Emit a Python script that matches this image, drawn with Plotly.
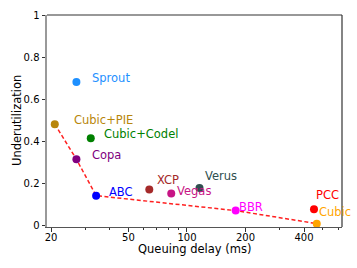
import plotly.graph_objects as go
import math

names = ["Sprout", "Cubic+PIE", "Cubic+Codel", "Copa", "ABC", "XCP", "Vegas", "Verus", "BBR", "PCC", "Cubic"]
delay_ms = [27.0, 20.9, 32.0, 27.0, 34.1, 64.0, 83.0, 116.0, 178.0, 450.0, 465.0]
underutil = [0.682, 0.481, 0.414, 0.314, 0.141, 0.170, 0.151, 0.178, 0.070, 0.076, 0.008]
colors = ["#1E90FF", "#B8860B", "#008000", "#800080", "#0000FF", "#A52A2A", "#C71585", "#2F4F4F", "#FF00FF", "#FF0000", "#FFA500"]
frontier = ["Cubic+PIE", "Copa", "ABC", "BBR", "Cubic"]

x_ticks = [20, 50, 100, 200, 400]
x_minor = [30, 40, 60, 70, 80, 90, 300, 500, 600]
y_ticks = [0, 0.2, 0.4, 0.6, 0.8, 1.0]
y_ticktext = ["0", "0.2", "0.4", "0.6", "0.8", "1"]
x_title = "Queuing delay (ms)"
y_title = "Underutilization"

# label pixel offsets (dx, dy) relative to each point
label_offsets = {
    "Sprout": (15, 4), "Cubic+PIE": (18, 4), "Cubic+Codel": (12, 4), "Copa": (15, 4),
    "ABC": (12, 4), "XCP": (7, 10), "Vegas": (5, 3), "Verus": (4, 12),
    "BBR": (2, 4), "PCC": (1, 14), "Cubic": (1, 12),
}

font = "DejaVu Sans"
fig = go.Figure()

idx = {n: i for i, n in enumerate(names)}
fig.add_trace(go.Scatter(
    x=[delay_ms[idx[n]] for n in frontier],
    y=[underutil[idx[n]] for n in frontier],
    mode="lines", line=dict(color="#FF2020", width=1.5, dash="4px,2.5px"),
    showlegend=False, hoverinfo="skip", cliponaxis=False))

fig.add_trace(go.Scatter(
    x=delay_ms, y=underutil, mode="markers",
    marker=dict(color=colors, size=8, line=dict(width=0)),
    showlegend=False, cliponaxis=False))

for n, xv, yv, c in zip(names, delay_ms, underutil, colors):
    dx, dy = label_offsets[n]
    fig.add_annotation(x=math.log10(xv), y=yv, text=n, showarrow=False,
                       xanchor="left", yanchor="middle", xshift=dx, yshift=dy,
                       font=dict(family=font, size=11.5, color=c), borderpad=0)

# axis titles
fig.add_annotation(x=0.5, y=0, xref="paper", yref="paper", text=x_title, showarrow=False,
                   xanchor="center", yanchor="middle", yshift=-22, borderpad=0,
                   font=dict(family=font, size=11.5, color="black"))
fig.add_annotation(x=0, y=0.5, xref="paper", yref="paper", text=y_title, showarrow=False,
                   xanchor="center", yanchor="middle", xshift=-30, textangle=-90, borderpad=0,
                   font=dict(family=font, size=11.5, color="black"))

# top and right spines
fig.add_shape(type="line", xref="paper", yref="paper", x0=0, x1=1, y0=1, y1=1,
              line=dict(color="#333333", width=1.2))
fig.add_shape(type="line", xref="paper", yref="paper", x0=1, x1=1, y0=0, y1=1,
              line=dict(color="#333333", width=1.2))

fig.update_layout(
    width=357, height=268,
    margin=dict(l=47, r=15, t=15, b=41, autoexpand=False),
    plot_bgcolor="white", paper_bgcolor="white",
    font=dict(family=font, size=10, color="black"),
    xaxis=dict(type="log", range=[math.log10(19.06), math.log10(627)],
               automargin=False,
               tickmode="array", tickvals=x_ticks, ticktext=[str(v) for v in x_ticks],
               ticks="outside", ticklen=3.5, tickwidth=1, tickcolor="#333",
               ticklabelstandoff=-3,
               showgrid=False, zeroline=False,
               showline=True, linecolor="#555555", linewidth=1.2,
               minor=dict(tickmode="array", tickvals=x_minor, ticks="outside",
                          ticklen=2, tickcolor="#333", showgrid=False)),
    yaxis=dict(range=[-0.008, 1.0],
               automargin=False,
               tickmode="array", tickvals=y_ticks, ticktext=y_ticktext,
               ticks="outside", ticklen=3.5, tickwidth=1, tickcolor="#333",
               showgrid=False, zeroline=False,
               showline=True, linecolor="#999999", linewidth=2),
)

fig.write_html("out.html", config={"displayModeBar": False},
               post_script="document.body.style.margin='0px';")
